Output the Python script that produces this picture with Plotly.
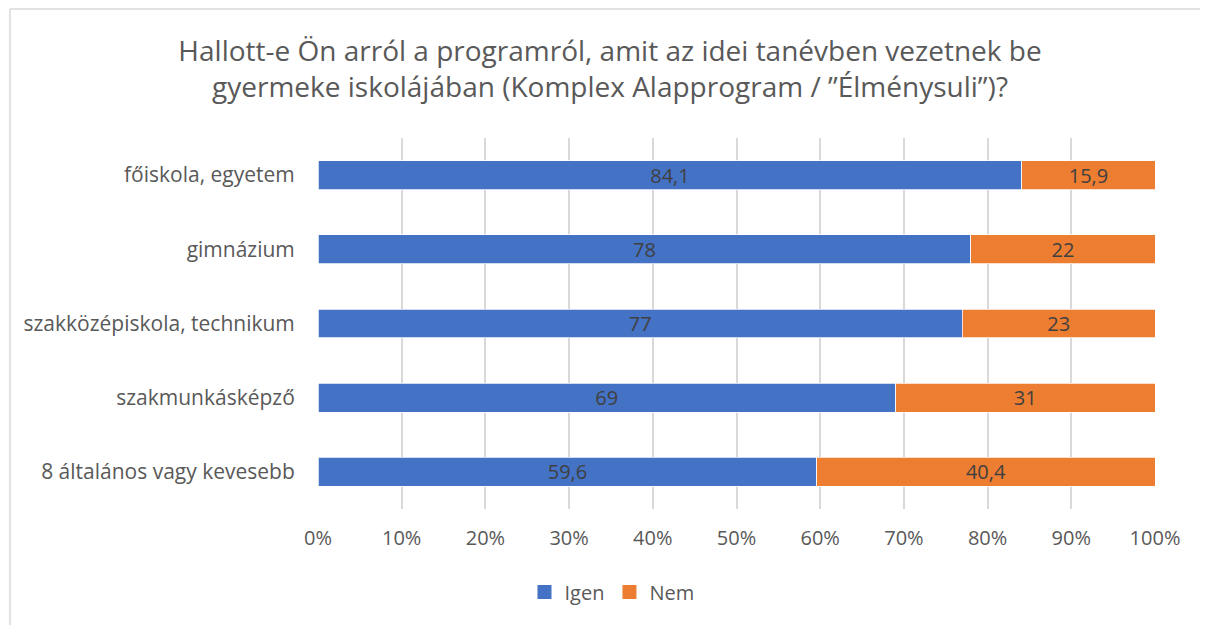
import plotly.graph_objects as go

categories = ["8 általános vagy kevesebb", "szakmunkásképző", "szakközépiskola, technikum", "gimnázium", "főiskola, egyetem"]
igen = [59.6, 69, 77, 78, 84.1]
nem = [40.4, 31, 23, 22, 15.9]
igen_labels = ["59,6", "69", "77", "78", "84,1"]
nem_labels = ["40,4", "31", "23", "22", "15,9"]
tick_vals = [0, 10, 20, 30, 40, 50, 60, 70, 80, 90, 100]
tick_text = ["0%", "10%", "20%", "30%", "40%", "50%", "60%", "70%", "80%", "90%", "100%"]

BLUE, ORANGE = "#4472C4", "#ED7D31"

# page has an 8px body margin, so the figure is sized/offset accordingly
OFF = 8
W, H = 1208 - OFF, 625 - OFF
L, R, T, B = 318 - OFF, 53, 138 - OFF, 116
FONT = "Open Sans, sans-serif"

fig = go.Figure()
for name, vals, labels, color in [("Igen", igen, igen_labels, BLUE), ("Nem", nem, nem_labels, ORANGE)]:
    fig.add_trace(go.Bar(
        y=categories, x=vals, name=name, orientation="h",
        marker=dict(color=color, line=dict(color="white", width=0.75)),
        text=labels, textposition="inside", insidetextanchor="middle", textangle=0,
        constraintext="none",
        textfont=dict(color="#404040", size=20, family=FONT),
        hoverinfo="x+y", showlegend=False,
    ))
# legend entries with larger square swatches
for name, color in [("Igen", BLUE), ("Nem", ORANGE)]:
    fig.add_trace(go.Scatter(
        x=[None], y=[None], mode="markers", name=name,
        marker=dict(symbol="square", size=14, color=color),
        hoverinfo="skip",
    ))

def px_x(px):
    return (px - OFF - L) / (W - L - R)

def px_y(py):
    return (H - B - (py - OFF)) / (H - T - B)

fig.update_layout(
    width=W, height=H,
    barmode="stack", bargap=0.61,
    margin=dict(l=L, r=R, t=T, b=B, autoexpand=False),
    paper_bgcolor="white", plot_bgcolor="white",
    font=dict(family=FONT, color="#595959", size=20),
    title=dict(
        text="Hallott-e Ön arról a programról, amit az idei tanévben vezetnek be<br>gyermeke iskolájában (Komplex Alapprogram / ”Élménysuli”)?",
        x=(610 - OFF) / W, xanchor="center", xref="container",
        y=1 - (61 - OFF) / H, yanchor="middle", yref="container",
        font=dict(size=28, color="#595959", family=FONT),
    ),
    xaxis=dict(
        range=[0, 100], tickvals=tick_vals, ticktext=tick_text,
        showgrid=True, gridcolor="#D9D9D9", gridwidth=1.5,
        zeroline=False, showline=False, ticks="",
        tickfont=dict(size=20, color="#595959"),
        fixedrange=True,
    ),
    yaxis=dict(
        showgrid=False, zeroline=False, showline=False, ticks="outside",
        ticklen=18, tickcolor="rgba(0,0,0,0)",
        tickfont=dict(size=21, color="#595959"),
        fixedrange=True,
    ),
    legend=dict(
        orientation="h", x=(612 - OFF) / W, xanchor="center", xref="container",
        y=px_y(592), yanchor="middle",
        font=dict(size=20, color="#595959"),
        itemwidth=30, traceorder="normal",
    ),
    showlegend=True,
    uniformtext=dict(minsize=20, mode="show"),
)

fig.update_xaxes(ticklabelstandoff=15)

# chart border (left and top edges visible)
fig.add_shape(type="line", xref="paper", yref="paper",
              x0=px_x(10), x1=px_x(10), y0=px_y(9), y1=px_y(640),
              line=dict(color="#D9D9D9", width=1.5))
fig.add_shape(type="line", xref="paper", yref="paper",
              x0=px_x(10), x1=px_x(1220), y0=px_y(9), y1=px_y(9),
              line=dict(color="#D9D9D9", width=1.5))

fig.write_html("out.html")
